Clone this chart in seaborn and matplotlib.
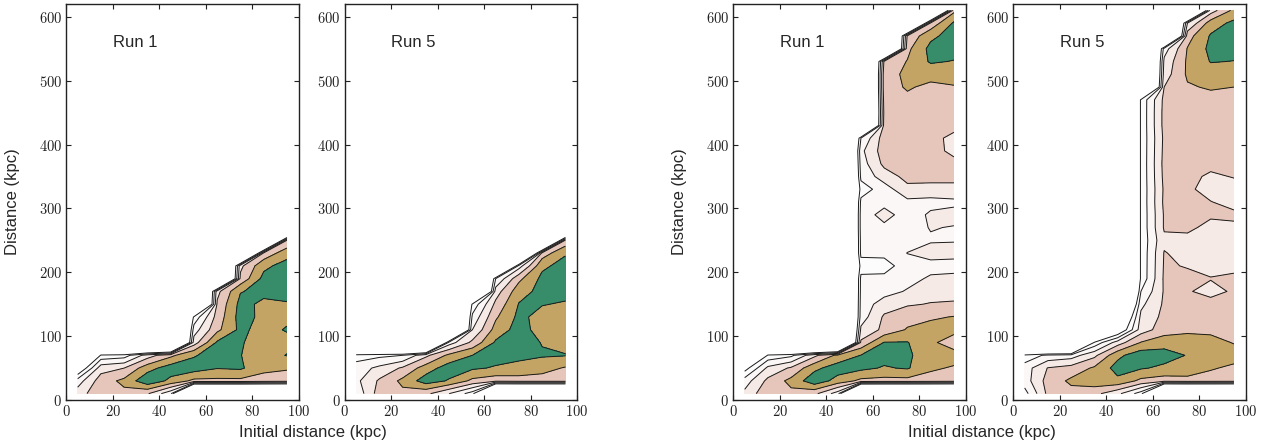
import numpy as np
import matplotlib
matplotlib.use("Agg")
import matplotlib.pyplot as plt
from matplotlib.ticker import FuncFormatter
import seaborn as sns

# grid of the 2D histograms (kpc)
init_dist = [5, 15, 25, 35, 45, 55, 65, 75, 85, 95]
dist_short = [10, 30, 50, 70, 90, 110, 130, 150, 170, 190, 210, 230, 250, 270]
dist_long = [10, 30, 50, 70, 90, 110, 130, 150, 170, 190, 210, 230, 250, 270,
             290, 310, 330, 350, 370, 390, 410, 430, 450, 470, 490, 510, 530,
             550, 570, 590, 610]

# log-density score, one row per distance (bottom -> top)
left_run1 = [
    [27, 29.5, 29.5, 28.2, 24.5, 0, 0, 0, 0, 0],
    [25, 29, 30.5, 33.5, 31.5, 29.5, 29.5, 29.5, 29.2, 29],
    [19, 27.2, 28, 31.2, 33, 33, 32.1, 32.3, 30.5, 30.2],
    [0, 22.5, 23, 27, 29.5, 31.8, 33, 32.05, 31, 32.1],
    [0, 0, 0, 0, 0, 27, 32.3, 32.2, 31, 31.2],
    [0, 0, 0, 0, 0, 25, 29.5, 32.5, 31.2, 32.2],
    [0, 0, 0, 0, 0, 22.5, 28.8, 32.8, 31.5, 31.5],
    [0, 0, 0, 0, 0, 0, 28.3, 32.6, 31.6, 31.8],
    [0, 0, 0, 0, 0, 0, 27.4, 31.9, 32.5, 32.8],
    [0, 0, 0, 0, 0, 0, 0, 28.5, 32.6, 33],
    [0, 0, 0, 0, 0, 0, 0, 27.5, 31.5, 32.8],
    [0, 0, 0, 0, 0, 0, 0, 0, 28.5, 31.2],
    [0, 0, 0, 0, 0, 0, 0, 0, 0, 28.2],
    [0, 0, 0, 0, 0, 0, 0, 0, 0, 0],
]
left_run5 = [
    [24.5, 29, 29.5, 28.5, 26, 23, 0, 0, 0, 0],
    [25.5, 28.3, 30.5, 33, 31.8, 29.5, 28.8, 29, 29, 29],
    [25, 26.5, 28.3, 31, 33, 32.3, 31.8, 31.5, 30.8, 29.8],
    [23, 23.5, 24, 27.5, 30.5, 32, 32.8, 32.4, 32.2, 32.1],
    [0, 0, 0, 0, 25, 28.5, 32.3, 33, 31.9, 31.3],
    [0, 0, 0, 0, 0, 26, 30.8, 32.8, 31.2, 31],
    [0, 0, 0, 0, 0, 24.5, 29.7, 32.5, 31.3, 31.2],
    [0, 0, 0, 0, 0, 22.5, 28.5, 32.1, 32.1, 31.8],
    [0, 0, 0, 0, 0, 0, 27, 31.2, 32.6, 32.6],
    [0, 0, 0, 0, 0, 0, 24, 29.5, 32.5, 32.9],
    [0, 0, 0, 0, 0, 0, 0, 25, 31.6, 32.7],
    [0, 0, 0, 0, 0, 0, 0, 0, 28.8, 31.8],
    [0, 0, 0, 0, 0, 0, 0, 0, 0, 28.5],
    [0, 0, 0, 0, 0, 0, 0, 0, 0, 0],
]
right_run1 = [
    [26.5, 29.5, 29.5, 28.5, 25, 0, 0, 0, 0, 0],
    [25, 28.5, 30.6, 33.3, 31.2, 29.5, 29.3, 29.3, 29.2, 29],
    [21, 26.5, 28.3, 31.5, 33, 32.5, 31.8, 32.2, 30.3, 29.8],
    [0, 22.5, 23.5, 27.5, 30.5, 32.05, 32.8, 32.3, 31, 30.8],
    [0, 0, 0, 0, 0, 28.4, 32.1, 32.1, 30.4, 29],
    [0, 0, 0, 0, 0, 26.4, 28.5, 30.2, 30.8, 30.6],
    [0, 0, 0, 0, 0, 25, 28.3, 29.2, 29.7, 30.1],
    [0, 0, 0, 0, 0, 24.8, 27, 27.8, 28.1, 28.2],
    [0, 0, 0, 0, 0, 24.6, 25.2, 26.2, 27.3, 27.4],
    [0, 0, 0, 0, 0, 24.5, 24.5, 25.3, 26.3, 26.5],
    [0, 0, 0, 0, 0, 23, 23.2, 25, 25.3, 25.3],
    [0, 0, 0, 0, 0, 24.5, 24.5, 26.05, 26.8, 26.6],
    [0, 0, 0, 0, 0, 24.6, 24.8, 25.2, 25.8, 25.9],
    [0, 0, 0, 0, 0, 24.8, 25.5, 25.2, 26.1, 25.9],
    [0, 0, 0, 0, 0, 24.8, 26.8, 25, 26.3, 26.6],
    [0, 0, 0, 0, 0, 24.5, 25.3, 25.5, 25.4, 25.6],
    [0, 0, 0, 0, 0, 23, 25, 27.5, 27.2, 27.3],
    [0, 0, 0, 0, 0, 24.5, 27, 28.6, 28.8, 28.7],
    [0, 0, 0, 0, 0, 25, 28.5, 29.2, 29.3, 28.9],
    [0, 0, 0, 0, 0, 25.5, 29, 29.3, 29.2, 27.2],
    [0, 0, 0, 0, 0, 24, 29, 29.3, 29.2, 27],
    [0, 0, 0, 0, 0, 0, 28.8, 29.4, 29.5, 29.2],
    [0, 0, 0, 0, 0, 0, 28.5, 29.4, 29.6, 29.4],
    [0, 0, 0, 0, 0, 0, 28.8, 29.6, 29.8, 29.7],
    [0, 0, 0, 0, 0, 0, 29.2, 30.2, 29.6, 29.9],
    [0, 0, 0, 0, 0, 0, 29.2, 30.4, 30.6, 30.6],
    [0, 0, 0, 0, 0, 0, 28.4, 30.1, 32.25, 31.9],
    [0, 0, 0, 0, 0, 0, 0, 29.5, 32.6, 32.8],
    [0, 0, 0, 0, 0, 0, 0, 28.4, 31.5, 32.9],
    [0, 0, 0, 0, 0, 0, 0, 0, 28.6, 32.3],
    [0, 0, 0, 0, 0, 0, 0, 0, 0, 29.5],
]
right_run5 = [
    [23.2, 28.5, 29.3, 28.6, 26.5, 23, 0, 0, 0, 0],
    [25, 28.8, 30.4, 31.2, 31.5, 29.5, 29, 29.2, 29.1, 29],
    [25, 28.1, 28.8, 30.3, 32.8, 32.2, 31.6, 31.4, 30.2, 29.6],
    [22.6, 24.5, 25, 27.5, 31.5, 33.2, 32.8, 31.9, 31, 30.8],
    [0, 0, 0, 22.5, 27, 30.1, 31.2, 31.2, 30.6, 29.9],
    [0, 0, 0, 0, 19, 27, 29, 29.5, 29.6, 29.2],
    [0, 0, 0, 0, 15, 26.5, 28.5, 28.8, 29, 28.8],
    [0, 0, 0, 0, 8, 25.5, 28.3, 28.6, 28.8, 28.6],
    [0, 0, 0, 0, 0, 24, 28.2, 28.2, 27.3, 28.3],
    [0, 0, 0, 0, 0, 22.5, 28.3, 28.4, 28.1, 28.3],
    [0, 0, 0, 0, 0, 22.5, 28.2, 27.9, 27.3, 27.6],
    [0, 0, 0, 0, 0, 22.5, 28.1, 27.4, 27.2, 27.4],
    [0, 0, 0, 0, 0, 22.5, 27.6, 27.6, 27.3, 27.5],
    [0, 0, 0, 0, 0, 22.5, 28.2, 28.3, 27.6, 27.7],
    [0, 0, 0, 0, 0, 22.5, 28.2, 28.4, 28.2, 28.3],
    [0, 0, 0, 0, 0, 22.5, 28.4, 28.6, 28.05, 27.5],
    [0, 0, 0, 0, 0, 22.5, 28.3, 28.3, 27.4, 27.3],
    [0, 0, 0, 0, 0, 22.5, 28.5, 28.5, 27.7, 28.1],
    [0, 0, 0, 0, 0, 22.5, 28.6, 28.7, 28.5, 28.6],
    [0, 0, 0, 0, 0, 22.5, 28.5, 28.8, 28.7, 28.8],
    [0, 0, 0, 0, 0, 22.5, 28.4, 28.9, 28.8, 29],
    [0, 0, 0, 0, 0, 22.5, 28.6, 29, 29, 29.2],
    [0, 0, 0, 0, 0, 22.5, 28.6, 29.2, 29.1, 29.3],
    [0, 0, 0, 0, 0, 22.5, 28.5, 29.4, 29.4, 29.6],
    [0, 0, 0, 0, 0, 0, 28, 29.8, 30.2, 30],
    [0, 0, 0, 0, 0, 0, 27, 30.3, 31, 31.2],
    [0, 0, 0, 0, 0, 0, 26.5, 30.3, 32.1, 31.95],
    [0, 0, 0, 0, 0, 0, 25, 30.1, 32.5, 32.7],
    [0, 0, 0, 0, 0, 0, 0, 29.2, 32.2, 32.9],
    [0, 0, 0, 0, 0, 0, 0, 26, 31, 32.5],
    [0, 0, 0, 0, 0, 0, 0, 0, 27, 30.5],
]

levels = [22, 24, 26, 28, 30, 32, 40]
band_colors = ["#fdfcfc", "#faf7f6", "#f6eae7",
               "#e6c6ba", "#c4a465", "#378c6a"]

sns.set_theme(style="ticks")
plt.rcParams["font.family"] = ["Liberation Sans", "DejaVu Sans"]
plt.rcParams["mathtext.fontset"] = "cm"

fig = plt.figure(figsize=(12.63, 4.45), dpi=100)
lefts = [0.0523, 0.2728, 0.5804, 0.8021]
panels = [
    (left_run1, dist_short, "Run 1"),
    (left_run5, dist_short, "Run 5"),
    (right_run1, dist_long, "Run 1"),
    (right_run5, dist_long, "Run 5"),
]
tick_fmt = FuncFormatter(lambda v, p: f"${v:.0f}$")

for i, (grid, ydist, run) in enumerate(panels):
    ax = fig.add_axes([lefts[i], 0.1011, 0.1841, 0.8899])
    z = np.array(grid, dtype=float)
    ax.contourf(init_dist, ydist, z, levels=levels, colors=band_colors)
    ax.contour(init_dist, ydist, z, levels=levels[:-1], colors="k",
               linewidths=0.7)
    ax.set_xlim(0, 100)
    ax.set_ylim(0, 620)
    ax.set_xticks([0, 20, 40, 60, 80, 100])
    ax.set_yticks([0, 100, 200, 300, 400, 500, 600])
    ax.xaxis.set_major_formatter(tick_fmt)
    ax.yaxis.set_major_formatter(tick_fmt)
    ax.tick_params(direction="in", top=True, right=True, length=3.5,
                   width=0.8, labelsize=10.5, pad=3, colors="#222222")
    for sp in ax.spines.values():
        sp.set_linewidth(1.0)
        sp.set_color("#222222")
    ax.text(20, 560, run, fontsize=12, va="center", ha="left")
    if i in (0, 2):
        ax.set_ylabel("Distance (kpc)", fontsize=12)
        ax.yaxis.set_label_coords(-0.196, 0.5)

fig.text(0.248, 0.027, "Initial distance (kpc)", fontsize=12,
         ha="center", va="center")
fig.text(0.7775, 0.027, "Initial distance (kpc)", fontsize=12,
         ha="center", va="center")

fig.savefig("out.png", dpi=100)
